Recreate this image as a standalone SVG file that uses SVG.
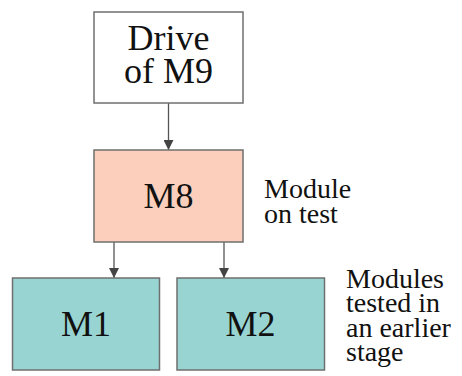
<svg xmlns="http://www.w3.org/2000/svg" width="462" height="376" viewBox="0 0 462 376">
  <style>
    .box { stroke: #6f6f6f; stroke-width: 1.5; }
    .link { stroke: #555; stroke-width: 1.3; fill: none; }
    text { font-family: "Liberation Serif", serif !important; fill: #111; }
  </style>
  <defs>
    <marker id="arrow" viewBox="0 0 10 10" refX="10" refY="5" markerWidth="10" markerHeight="10" markerUnits="userSpaceOnUse" orient="auto">
      <path d="M0,0 L10,5 L0,10 z" fill="#444"/>
    </marker>
  </defs>
  <rect width="462" height="376" fill="#ffffff"/>

  <g id="connectors">
    <line class="link" x1="168.5" y1="103" x2="168.5" y2="150" marker-end="url(#arrow)"/>
    <line class="link" x1="114" y1="242" x2="114" y2="278" marker-end="url(#arrow)"/>
    <line class="link" x1="224" y1="242" x2="224" y2="278" marker-end="url(#arrow)"/>
  </g>

  <g id="driver">
    <rect class="box" x="94" y="12" width="149" height="91" fill="#ffffff"/>
    <text x="168.5" y="50" font-size="36" text-anchor="middle" style="font-family: 'Liberation Serif', serif !important">Drive</text>
    <text x="168.5" y="83" font-size="36" text-anchor="middle" style="font-family: 'Liberation Serif', serif !important">of M9</text>
  </g>

  <g id="m8">
    <rect class="box" x="94" y="150" width="149" height="92" fill="#fbcfbc"/>
    <text x="168.5" y="208" font-size="36" text-anchor="middle" style="font-family: 'Liberation Serif', serif !important">M8</text>
  </g>

  <g id="m1">
    <rect class="box" x="12.5" y="278" width="147" height="92" fill="#98d5d2"/>
    <text x="86" y="336" font-size="36" text-anchor="middle" style="font-family: 'Liberation Serif', serif !important">M1</text>
  </g>

  <g id="m2">
    <rect class="box" x="177" y="278" width="147.5" height="92" fill="#98d5d2"/>
    <text x="250.5" y="336" font-size="36" text-anchor="middle" style="font-family: 'Liberation Serif', serif !important">M2</text>
  </g>

  <g id="note-on-test">
    <text x="264" y="198" font-size="28" style="font-family: 'Liberation Serif', serif !important">Module</text>
    <text x="264" y="223" font-size="28" style="font-family: 'Liberation Serif', serif !important">on test</text>
  </g>

  <g id="note-tested">
    <text x="346" y="288" font-size="28" style="font-family: 'Liberation Serif', serif !important">Modules</text>
    <text x="346" y="312" font-size="28" style="font-family: 'Liberation Serif', serif !important">tested in</text>
    <text x="346" y="337" font-size="28" style="font-family: 'Liberation Serif', serif !important">an earlier</text>
    <text x="346" y="361" font-size="28" style="font-family: 'Liberation Serif', serif !important">stage</text>
  </g>
</svg>
